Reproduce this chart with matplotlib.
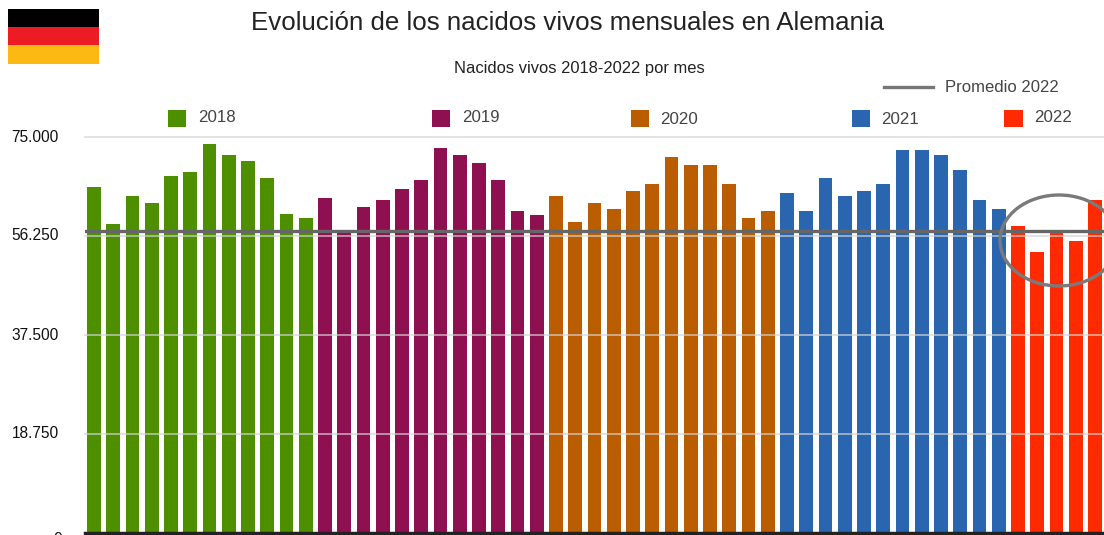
import matplotlib
matplotlib.use("Agg")
import matplotlib.pyplot as plt
from matplotlib.patches import Rectangle, Ellipse
from matplotlib.lines import Line2D

plt.rcParams['font.family'] = ['Liberation Sans', 'DejaVu Sans']

title = "Evolución de los nacidos vivos mensuales en Alemania"
subtitle = "Nacidos vivos 2018-2022 por mes"
years = ["2018", "2019", "2020", "2021", "2022"]
v2018 = [65590, 58520, 63830, 62440, 67610, 68370, 73670, 71650, 70450, 67230, 60470, 59660]
v2019 = [63390, 57060, 61690, 63010, 65210, 66860, 72970, 71650, 70130, 66860, 60990, 60170]
v2020 = [63830, 58960, 62560, 61420, 64770, 66100, 71210, 69640, 69640, 66100, 59660, 60990]
v2021 = [64450, 60930, 67240, 63830, 64770, 66040, 72480, 72480, 71590, 68810, 63010, 61420]
v2022 = [58150, 53280, 57140, 55250, 63010]
series = [v2018, v2019, v2020, v2021, v2022]
colors = ["#4E8F00", "#8F1050", "#B95D00", "#2A66B0", "#FF2A00"]
avg_2022 = 57200
avg_label = "Promedio 2022"
yticks = [0, 18750, 37500, 56250, 75000]
ylabels = ["0", "18.750", "37.500", "56.250", "75.000"]

W, H = 1104, 535
fig = plt.figure(figsize=(W / 100, H / 100), dpi=100)
fx = lambda p: p / W
fy = lambda p: 1 - p / H

ax = fig.add_axes([fx(85), fy(533), fx(1104 - 85), (533 - 137) / H])
ax.set_ylim(0, 75000)
ax.set_xlim(-0.468, 52.47)
ax.patch.set_alpha(0)
for s in ax.spines.values():
    s.set_visible(False)
ax.set_xticks([])
ax.set_yticks([])

i = 0
for vals, c in zip(series, colors):
    xs = list(range(i, i + len(vals)))
    ax.bar(xs, vals, width=0.71, color=c, zorder=2)
    i += len(vals)

for t in yticks[1:]:
    ax.axhline(t, color="#d4d4d4", lw=1.3, zorder=3, alpha=0.7, clip_on=False)
ax.axhline(0, color="#222222", lw=2.5, zorder=4, clip_on=False)
ax.axhline(avg_2022, color="#666666", lw=2.4, zorder=5)

# y labels (pixel positions of the chart's axis)
for t, lab in zip(yticks, ylabels):
    ypx = 533 - t / 75000 * 396
    xr = 59
    if t == 0:
        ypx = 539
        xr = 62
    fig.text(fx(xr), fy(ypx), lab, ha="right", va="center",
             fontsize=11.2, color="#111111")

# Title
fig.text(fx(567.5), fy(23.5), title, ha="center", va="center", fontsize=18.6, color="#222222")
fig.text(fx(579.5), fy(69), subtitle, ha="center", va="center", fontsize=11.9, color="#222222")

# Flag
for y0, y1, c in [(9, 27, "#000000"), (27, 45, "#ED1C24"), (45, 64, "#FDB913")]:
    fig.add_artist(Rectangle((fx(8), fy(y1)), 91 / W, (y1 - y0) / H,
                             transform=fig.transFigure, fc=c, ec="none"))

# Legend
leg = [(168, 198, 117.5), (432, 462, 117.5), (631, 660, 119), (852, 881, 119), (1004, 1034, 117.5)]
for (sx, tx, ty), yr, c in zip(leg, years, colors):
    sw = 19 if yr == "2022" else 18
    fig.add_artist(Rectangle((fx(sx), fy(127)), sw / W, 17 / H,
                             transform=fig.transFigure, fc=c, ec="none"))
    fig.text(fx(tx), fy(ty), yr, ha="left", va="center", fontsize=12.2, color="#444444")

fig.add_artist(Line2D([fx(884), fx(933)], [fy(87), fy(87)], transform=fig.transFigure,
                      color="#777777", lw=2.4))
fig.text(fx(945), fy(87), avg_label, ha="left", va="center", fontsize=12, color="#444444")

# Highlight ellipse
fig.add_artist(Ellipse((fx(1059), fy(240.5)), 118 / W, 91 / H, transform=fig.transFigure,
                       fc="none", ec="#7a7a7a", lw=2.4, zorder=10))

fig.savefig("out.png", dpi=100)
